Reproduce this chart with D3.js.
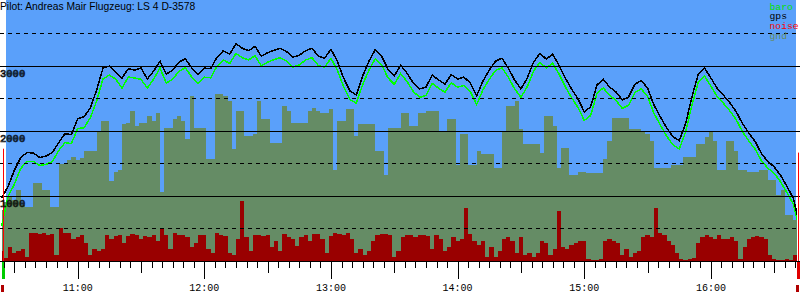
<!DOCTYPE html>
<html>
<head>
<meta charset="utf-8">
<script src="https://cdn.jsdelivr.net/npm/d3@7/dist/d3.min.js"></script>
<style>
  body { margin: 0; background: #fff; }
  svg { display: block; }
</style>
</head>
<body>
<svg id="chart" width="800" height="300"></svg>
<script>
const title = "Pilot: Andreas Mair Flugzeug: LS 4 D-3578";
const legendNames = ["baro", "gps", "noise", "gnd"];
const solidAlt = [1000, 2000, 3000];
const dashedAlt = [500, 1500, 2500, 3500];

// altitude lines, one sample every 3 minutes from 10:24
const lineStart = "10:24:00";
const lineStep = 3;
const gpsAlt = [
  960, 1141, 1386, 1585, 1661, 1653, 1585, 1607, 1661, 1814,
  1951, 1936, 2180, 2211, 2349, 2624, 2960, 2990, 2898, 2807,
  2952, 2929, 2960, 2792, 2914, 3067, 2868, 2929, 3051, 3105,
  2964, 2868, 2960, 2952, 3128, 3227, 3174, 3334, 3265, 3227,
  3296, 3143, 3197, 3235, 3265, 3212, 3128, 3158, 3227, 3265,
  3143, 3113, 3250, 3067, 2807, 2608, 2547, 2838, 3067, 3245,
  3143, 2944, 2838, 3006, 2883, 2730, 2639, 2669, 2853, 2776,
  2715, 2860, 2792, 2822, 2730, 2532, 2761, 2929, 3067, 3113,
  2960, 2776, 2639, 2807, 3051, 3189, 3097, 3174, 3006, 2807,
  2639, 2486, 2288, 2364, 2700, 2787, 2669, 2593, 2471, 2517,
  2711, 2769, 2654, 2394, 2211, 2043, 1905, 1844, 2104, 2517,
  2868, 2960, 2807, 2646, 2540, 2425, 2288, 2104, 1959, 1829,
  1641, 1523, 1440, 1310, 1141, 958, 560
];
const baroAlt = [
  530, 986, 1172, 1416, 1523, 1523, 1462, 1478, 1523, 1692,
  1814, 1799, 2028, 2043, 2196, 2456, 2792, 2853, 2792, 2654,
  2822, 2807, 2787, 2654, 2792, 2960, 2730, 2790, 2910, 2965,
  2825, 2720, 2820, 2810, 2990, 3085, 3030, 3185, 3120, 3085,
  3150, 2995, 3050, 3090, 3120, 3065, 2975, 3010, 3085, 3120,
  3000, 2975, 3110, 2930, 2670, 2475, 2420, 2705, 2930, 3105,
  3010, 2810, 2710, 2875, 2755, 2600, 2510, 2540, 2725, 2650,
  2590, 2735, 2665, 2695, 2600, 2400, 2625, 2790, 2925, 2965,
  2820, 2640, 2510, 2675, 2915, 3050, 2960, 3035, 2870, 2675,
  2505, 2355, 2155, 2230, 2570, 2655, 2540, 2465, 2340, 2390,
  2585, 2640, 2525, 2265, 2085, 1915, 1780, 1715, 1975, 2390,
  2740, 2835, 2680, 2520, 2415, 2300, 2165, 1980, 1835, 1710,
  1530, 1420, 1340, 1210, 1045, 870, 480
];

// ground and noise, one sample every 2 minutes from 10:24
const gndStart = "10:24:00";
const gndStep = 2;
const gndAlt = [
  775, 900, 1000, 930, 1080, 850, 820, 820, 1200, 1200,
  1080, 1080, 820, 820, 1490, 1490, 1540, 1585, 1540, 1570,
  1690, 1690, 1690, 2000, 2150, 2150, 1230, 1355, 1400, 2100,
  2120, 2300, 2074, 2120, 2120, 2226, 2150, 2272, 1050, 2043,
  2043, 2180, 2226, 2150, 1875, 2532, 2043, 2043, 2043, 1569,
  1569, 2562, 2562, 2532, 2456, 1722, 2300, 2303, 1921, 1921,
  1950, 2456, 2181, 2181, 1814, 1814, 1814, 2379, 2300, 2120,
  2120, 2120, 2120, 2303, 2350, 2303, 2272, 2272, 2333, 1386,
  2150, 2150, 2333, 2333, 1921, 2104, 2104, 2104, 2104, 1692,
  1692, 1310, 2043, 2043, 2043, 2272, 2272, 2074, 2074, 2272,
  2272, 2303, 2303, 2303, 1997, 2000, 2181, 2181, 1462, 1951,
  1951, 1462, 1462, 1692, 1646, 1646, 1646, 1416, 1416, 1997,
  2379, 2379, 2456, 2028, 1799, 1799, 1799, 1799, 1661, 2226,
  2226, 2074, 1416, 1737, 1737, 1310, 1310, 1355, 1355, 1340,
  1340, 1340, 1340, 1569, 1844, 2196, 2196, 2196, 2196, 2028,
  2028, 2028, 1997, 1950, 1844, 1416, 1416, 1416, 1416, 1462,
  1462, 1462, 1600, 1600, 1600, 1799, 1799, 1900, 1997, 1844,
  1386, 1386, 1844, 1844, 1692, 1386, 1386, 1355, 1355, 1355,
  1386, 1386, 1233, 1233, 1004, 1081, 698, 698, 620, 591
];
const noiseLevel = [
  15, 5, 21, 12, 15, 18, 6, 42, 42, 41,
  42, 39, 41, 9, 50, 42, 42, 33, 36, 39,
  27, 9, 18, 15, 18, 39, 33, 38, 39, 27,
  38, 41, 39, 33, 38, 36, 39, 30, 50, 39,
  18, 42, 39, 39, 36, 21, 27, 39, 39, 18,
  12, 42, 39, 38, 12, 9, 33, 90, 36, 15,
  39, 39, 38, 39, 21, 30, 15, 41, 36, 33,
  23, 36, 39, 30, 41, 41, 33, 12, 38, 42,
  41, 39, 42, 33, 12, 18, 9, 15, 30, 39,
  41, 41, 39, 6, 15, 36, 39, 39, 36, 39,
  39, 38, 18, 39, 33, 15, 21, 36, 30, 33,
  80, 41, 30, 24, 30, 6, 21, 6, 15, 33,
  36, 30, 12, 36, 9, 12, 6, 12, 30, 27,
  9, 18, 75, 21, 18, 24, 27, 30, 30, 3,
  2, 2, 3, 30, 33, 30, 27, 9, 18, 6,
  12, 15, 36, 39, 36, 80, 42, 39, 30, 24,
  12, 3, 2, 3, 5, 27, 36, 39, 36, 33,
  39, 33, 33, 36, 30, 3, 21, 33, 36, 38,
  36, 33, 9, 3, 2, 2, 3, 2, 9, 0
];

// takeoff / landing markers
const markerTimes = ["10:24:35", "16:41:10"];
const markerAlt = [1720, 1660];
const markerColors = ["#00cc00", "#e00000"];

const colors = { sky: "#5aa0fa", baro: "#00ff00", gps: "#000000", noise: "#990000", gnd: "#658c65" };

const svg = d3.select("#chart");
const parse = d3.timeParse("%H:%M:%S");

const x = d3.scaleTime()
  .domain([parse("10:23:12"), parse("16:42:12")])
  .range([0, 800]);
const y = d3.scaleLinear().domain([0, 4000]).range([260.5, 0.5]);
const yNoise = d3.scaleLinear().domain([0, 100]).range([261, 261 - 66.7]);

const series = (start, step, values) => {
  const t0 = parse(start);
  return values.map((v, i) => ({ t: d3.timeMinute.offset(t0, i * step), v }));
};
const gps = series(lineStart, lineStep, gpsAlt);
const baro = series(lineStart, lineStep, baroAlt);
const gnd = series(gndStart, gndStep, gndAlt);
const noise = series(gndStart, gndStep, noiseLevel);

svg.append("defs").append("clipPath").attr("id", "plot")
  .append("rect").attr("x", 0).attr("y", 0).attr("width", 797).attr("height", 261);

// sky
svg.append("rect")
  .attr("x", 6).attr("y", 0).attr("width", 790).attr("height", 261)
  .attr("fill", colors.sky);

const plot = svg.append("g").attr("clip-path", "url(#plot)");

plot.append("path")
  .datum(gnd)
  .attr("fill", colors.gnd)
  .attr("shape-rendering", "crispEdges")
  .attr("d", d3.area().curve(d3.curveStep)
    .x(d => x(d.t)).y0(261).y1(d => y(d.v)));

plot.append("path")
  .datum(noise)
  .attr("fill", colors.noise)
  .attr("shape-rendering", "crispEdges")
  .attr("d", d3.area().curve(d3.curveStep)
    .x(d => x(d.t)).y0(261).y1(d => yNoise(d.v)));

// grid
svg.append("g").selectAll("line")
  .data(solidAlt).join("line")
  .attr("x1", 0).attr("x2", 800)
  .attr("y1", d => Math.round(y(d)) + 0.5).attr("y2", d => Math.round(y(d)) + 0.5)
  .attr("stroke", "#000").attr("stroke-width", 1);

svg.append("g").selectAll("line")
  .data(dashedAlt).join("line")
  .attr("x1", 0).attr("x2", 800)
  .attr("y1", d => Math.round(y(d)) + 0.5).attr("y2", d => Math.round(y(d)) + 0.5)
  .attr("stroke", "#000").attr("stroke-width", 1)
  .attr("stroke-dasharray", "4,4");

// markers
markerTimes.forEach((m, i) => {
  const mx = Math.round(x(parse(m))) + 0.5;
  svg.append("line")
    .attr("x1", mx).attr("x2", mx)
    .attr("y1", y(markerAlt[i])).attr("y2", 261)
    .attr("stroke", "#ff0000").attr("stroke-width", 1);
  svg.append("rect")
    .attr("x", mx - 1.5).attr("y", 262).attr("width", 3).attr("height", 17)
    .attr("fill", markerColors[i]);
  svg.append("rect")
    .attr("x", mx - 2.5).attr("y", 285).attr("width", 3).attr("height", 7)
    .attr("fill", "#b00000");
});

// altitude lines
const line = d3.line().x(d => x(d.t)).y(d => y(d.v));
plot.append("path").datum(baro)
  .attr("fill", "none").attr("stroke", colors.baro).attr("stroke-width", 1.5)
  .attr("shape-rendering", "crispEdges")
  .attr("d", line);
plot.append("path").datum(gps)
  .attr("fill", "none").attr("stroke", colors.gps).attr("stroke-width", 1.5)
  .attr("shape-rendering", "crispEdges")
  .attr("d", line);

// altitude labels, drawn hollow
svg.append("g").selectAll("text")
  .data(solidAlt).join("text")
  .attr("x", 0).attr("y", d => y(d) + 11)
  .style("font-family", "'Liberation Mono', 'DejaVu Sans Mono', monospace")
  .style("font-size", "10.5px")
  .attr("fill", "none").attr("stroke", "#000").attr("stroke-width", 0.7)
  .text(d => d);

// time axis
svg.append("line")
  .attr("x1", 0).attr("x2", 800).attr("y1", 261.5).attr("y2", 261.5)
  .attr("stroke", "#000");

const ticks = x.ticks(d3.timeMinute.every(5));
svg.append("g").selectAll("line")
  .data(ticks).join("line")
  .attr("x1", d => Math.round(x(d)) + 0.5).attr("x2", d => Math.round(x(d)) + 0.5)
  .attr("y1", 262)
  .attr("y2", d => d.getMinutes() === 0 ? 279 : d.getMinutes() === 30 ? 273 : 268)
  .attr("stroke", "#000");

svg.append("g").selectAll("text")
  .data(x.ticks(d3.timeHour.every(1))).join("text")
  .attr("x", d => x(d)).attr("y", 290.5)
  .attr("text-anchor", "middle")
  .style("font-family", "'Liberation Mono', 'DejaVu Sans Mono', monospace")
  .style("font-size", "10px")
  .text(d3.timeFormat("%H:%M"));

// title and legend
svg.append("text")
  .attr("x", 0).attr("y", 10)
  .style("font-family", "'Liberation Sans', Arial, sans-serif")
  .style("font-size", "10.3px")
  .text(title);

svg.append("g").selectAll("text")
  .data(legendNames).join("text")
  .attr("x", 769.5).attr("y", (d, i) => 9.5 + i * 9.8)
  .style("font-family", "'Liberation Mono', 'DejaVu Sans Mono', monospace")
  .style("font-size", "9.7px")
  .attr("fill", d => d === "baro" ? "#00e000" : d === "noise" ? "#ff0000" : colors[d])
  .text(d => d);
</script>
</body>
</html>
